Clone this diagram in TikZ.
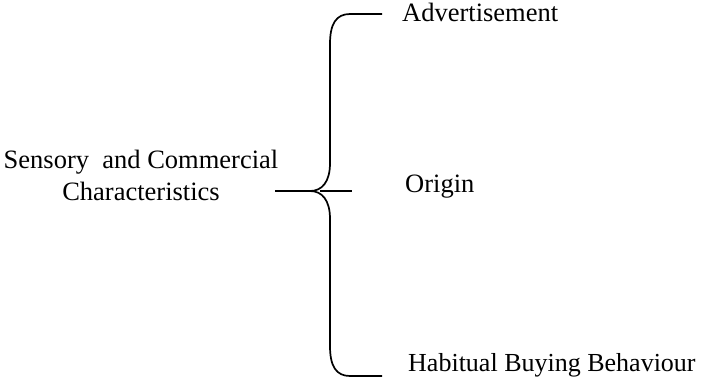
\documentclass[tikz,border=0pt]{standalone}
\usepackage{fontspec}
\setmainfont{Liberation Serif}
\begin{document}
\begin{tikzpicture}[x=1pt,y=-1pt,
    label/.style={anchor=base west,inner sep=0pt,font=\fontsize{26.5}{32}\selectfont},
    brace/.style={line width=1.7pt}]
    \useasboundingbox (0,0) rectangle (703,378);
    \node[label,align=center,anchor=base] (src) at (141,200) {Sensory\ \ and Commercial\\Characteristics};
    \node[label] (adv) at (402,21) {Advertisement};
    \node[label] (org) at (405,192) {Origin};
    \node[label,font=\fontsize{26}{32}\selectfont] (hab) at (408,371.5) {Habitual Buying Behaviour};
    \coordinate (stem) at (275,191);
    \coordinate (tip) at (310,191);
    \coordinate (top) at (382,14);
    \coordinate (mid) at (352,191);
    \coordinate (bot) at (382,376);
    % the brace
    \draw[brace] (top) -- (350,14) .. controls (336,14) and (330,24) .. (330,44)
        -- (330,163) .. controls (330,182) and (322,191) .. (tip)
        .. controls (322,191) and (330,200) .. (330,219)
        -- (330,346) .. controls (330,366) and (336,376) .. (350,376) -- (bot);
    \draw[brace] (stem) -- (tip);
    \draw[brace] (320,191) -- (mid);
\end{tikzpicture}
\end{document}
